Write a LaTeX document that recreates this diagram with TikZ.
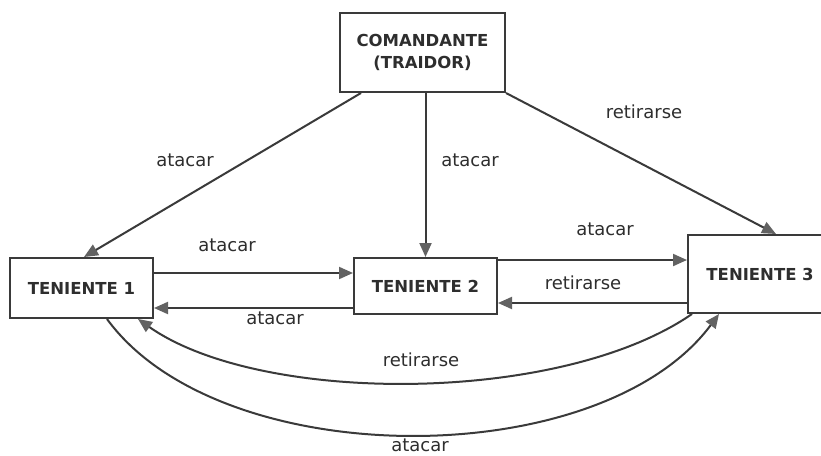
\documentclass[tikz,border=0pt]{standalone}
\usepackage{fontspec}
\setmainfont{DejaVu Sans}
\usetikzlibrary{arrows.meta}
\definecolor{linegray}{HTML}{3A3A3A}
\definecolor{tipgray}{HTML}{626262}
\definecolor{textgray}{HTML}{2E2E2E}
\tikzset{
  box/.style={draw=linegray, line width=2pt, fill=white, text=textgray, inner sep=0pt,
    font=\fontsize{16.5}{22}\selectfont\bfseries, align=center},
  conn/.style={draw=linegray, line width=2pt,
    -{Triangle[length=14pt,width=12pt,color=tipgray]}},
  lbl/.style={text=textgray, font=\fontsize{18}{20}\selectfont, inner sep=0pt}
}
\begin{document}
\begin{tikzpicture}[x=1pt,y=-1pt]
\useasboundingbox (0,0) rectangle (821,455);
\fill[white] (0,0) rectangle (821,455);
% nodes
\node[box, minimum width=165pt, minimum height=79pt] (c) at (422.5,52.5) {COMANDANTE\\(TRAIDOR)};
\node[box, minimum width=143pt, minimum height=60pt] (t1) at (81.5,288) {TENIENTE 1};
\node[box, minimum width=143pt, minimum height=56pt] (t2) at (425.5,286) {TENIENTE 2};
\node[box, minimum width=144pt, minimum height=78pt, text width=144pt] (t3) at (760,274) {TENIENTE 3\\[12pt]};
% connectors from commander
\draw[conn] ([xshift=22pt]c.south west) -- ([xshift=75pt]t1.north west);
\draw[conn] (c.south -| t2.north) -- (t2.north);
\draw[conn] (c.south east) -- ([xshift=89pt]t3.north west);
% horizontal connectors
\draw[conn] ([yshift=15pt]t1.east) -- ([yshift=13pt]t2.west);
\draw[conn] ([yshift=-22pt]t2.west) -- ([yshift=-20pt]t1.east);
\draw[conn] ([yshift=26pt]t2.east) -- ([yshift=14pt]t3.west);
\draw[conn] ([yshift=-29pt]t3.west) -- ([yshift=-17pt]t2.east);
% curved connectors
\draw[conn] ([xshift=5pt]t3.south west) .. controls (560,405) and (260,405) .. ([xshift=-16pt]t1.south east);
\draw[conn] ([xshift=98pt]t1.south west) .. controls (220,474) and (600,474) .. ([xshift=32pt]t3.south west);
% labels
\node[lbl] (l1) at (185,160) {atacar};
\node[lbl] (l2) at (470,160) {atacar};
\node[lbl] (l3) at (644,112) {retirarse};
\node[lbl] (l4) at (227,245) {atacar};
\node[lbl] (l5) at (275,318) {atacar};
\node[lbl] (l6) at (605,229) {atacar};
\node[lbl] (l7) at (583,283) {retirarse};
\node[lbl] (l8) at (421,360) {retirarse};
\node[lbl] (l9) at (420,445) {atacar};
\end{tikzpicture}
\end{document}
